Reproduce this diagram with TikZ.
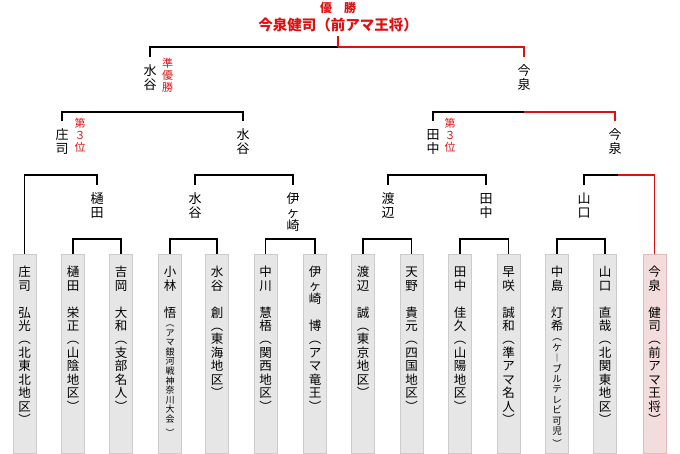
\documentclass[tikz,border=0pt]{standalone}
\usepackage{fontspec}
\setmainfont{Noto Sans CJK JP}
\definecolor{winred}{RGB}{221,17,17}
\definecolor{boxfill}{RGB}{230,230,230}
\definecolor{boxline}{RGB}{204,204,204}
\definecolor{champfill}{RGB}{242,220,220}
\definecolor{champline}{RGB}{228,186,186}
\tikzset{
  player/.style={draw=boxline,fill=boxfill,line width=1pt,anchor=north,
    text width=13pt,align=center,inner xsep=5pt,inner ysep=0pt,
    text height=22pt,text depth=177pt,font=\fontsize{12.5}{13.5}\selectfont},
  champbox/.style={player,draw=champline,fill=champfill},
  winner/.style={anchor=north,text width=13pt,align=center,inner sep=0pt,
    text height=18pt,font=\fontsize{13}{13.5}\selectfont},
  note/.style={anchor=north,text width=11pt,align=center,inner sep=0pt,
    text height=10pt,text=winred,font=\fontsize{11}{11.8}\selectfont},
  title/.style={anchor=base,inner sep=0pt,text=winred,font=\bfseries#1},
  win/.style={draw=winred}
}
\begin{document}
\begin{tikzpicture}[x=1pt,y=-1pt,line width=1.2pt]
  \useasboundingbox (0,0) rectangle (680,454);
  \node[title=\fontsize{12}{12}\selectfont] (yusho) at (338,12.5) {優　勝};
  \node[title=\fontsize{14.5}{15}\selectfont,outer ysep=3.5pt] (champ) at (338,31) {今泉健司（前アマ王将）};

  \node[player] (p1) at (24.5,254) {庄\\司\\[13.5pt]弘\\光\\︵\\北\\東\\北\\地\\区\\︶};
  \node[player] (p2) at (73,254) {樋\\田\\[13.5pt]栄\\正\\︵\\山\\陰\\地\\区\\︶};
  \node[player] (p3) at (121,254) {吉\\岡\\[13.5pt]大\\和\\︵\\支\\部\\名\\人\\︶};
  \node[player] (p4) at (170,254) {小\\林\\[13.5pt]悟\par\fontsize{9}{9.6}\selectfont ︵\\ア\\マ\\銀\\河\\戦\\神\\奈\\川\\大\\会\\︶};
  \node[player] (p5) at (217,254) {水\\谷\\[13.5pt]創\\︵\\東\\海\\地\\区\\︶};
  \node[player] (p6) at (265.5,254) {中\\川\\[13.5pt]慧\\梧\\︵\\関\\西\\地\\区\\︶};
  \node[player] (p7) at (315,254) {伊\\ヶ\\崎\\[13.5pt]博\\︵\\ア\\マ\\竜\\王\\︶};
  \node[player] (p8) at (363,254) {渡\\辺\\[13.5pt]誠\\︵\\東\\京\\地\\区\\︶};
  \node[player] (p9) at (411.5,254) {天\\野\\[13.5pt]貴\\元\\︵\\四\\国\\地\\区\\︶};
  \node[player] (p10) at (460,254) {田\\中\\[13.5pt]佳\\久\\︵\\山\\陽\\地\\区\\︶};
  \node[player] (p11) at (508.5,254) {早\\咲\\[13.5pt]誠\\和\\︵\\準\\ア\\マ\\名\\人\\︶};
  \node[player] (p12) at (557,254) {中\\島\\[13.5pt]灯\\希\par\fontsize{9.5}{10.4}\selectfont ︵\\ケ\\︱\\ブ\\ル\\テ\\レ\\ビ\\可\\児\\︶};
  \node[player] (p13) at (605,254) {山\\口\\[13.5pt]直\\哉\\︵\\北\\関\\東\\地\\区\\︶};
  \node[champbox] (p14) at (654.5,254) {今\\泉\\[13.5pt]健\\司\\︵\\前\\ア\\マ\\王\\将\\︶};

  \node[winner] (a1) at (97,185) {樋\\田};
  \node[winner] (a2) at (195,185) {水\\谷};
  \node[winner] (a3) at (293,185) {伊\\ヶ\\崎};
  \node[winner] (a4) at (388,185) {渡\\辺};
  \node[winner] (a5) at (486,185) {田\\中};
  \node[winner] (a6) at (584,185) {山\\口};

  \node[winner] (b1) at (62,121) {庄\\司};
  \node[note] (third1) at (80,117) {第\\３\\位};
  \node[winner] (b2) at (243,121) {水\\谷};
  \node[winner] (b3) at (433,121) {田\\中};
  \node[note] (third2) at (450,117) {第\\３\\位};
  \node[winner] (b4) at (615,121) {今\\泉};

  \node[winner] (c1) at (150,57) {水\\谷};
  \node[note] (second) at (167.5,57) {準\\優\\勝};
  \node[winner] (c2) at (524,57) {今\\泉};

  \coordinate (k1) at (97,239);
  \coordinate (k2) at (193.5,239);
  \coordinate (k3) at (290,239);
  \coordinate (k4) at (387.5,239);
  \coordinate (k5) at (484,239);
  \coordinate (k6) at (581,239);
  \coordinate (l1) at (61,175);
  \coordinate (l2) at (244,175);
  \coordinate (l3) at (437,175);
  \coordinate (l4) at (618,175);
  \coordinate (s1) at (152.5,112);
  \coordinate (s2) at (524,112);
  \coordinate (f) at (338,47);

  \draw (p2.north) |- (k1) -| (p3.north);
  \draw (p4.north) |- (k2) -| (p5.north);
  \draw (p6.north) |- (k3) -| (p7.north);
  \draw (p8.north) |- (k4) -| (p9.north);
  \draw (p10.north) |- (k5) -| (p11.north);
  \draw (p12.north) |- (k6) -| (p13.north);

  \draw (p1.north) |- (l1) -| (a1.north);
  \draw (a2.north) |- (l2) -| (a3.north);
  \draw (a4.north) |- (l3) -| (a5.north);
  \draw (a6.north) |- (l4);
  \draw[win] (l4) -| (p14.north);

  \draw (b1.north) |- (s1) -| (b2.north);
  \draw (b3.north) |- (s2);
  \draw[win] (s2) -| (b4.north);

  \draw (c1.north) |- (f);
  \draw[win] (f) -| (c2.north);
  \draw[win] (f) -- (champ.south);
\end{tikzpicture}
\end{document}
